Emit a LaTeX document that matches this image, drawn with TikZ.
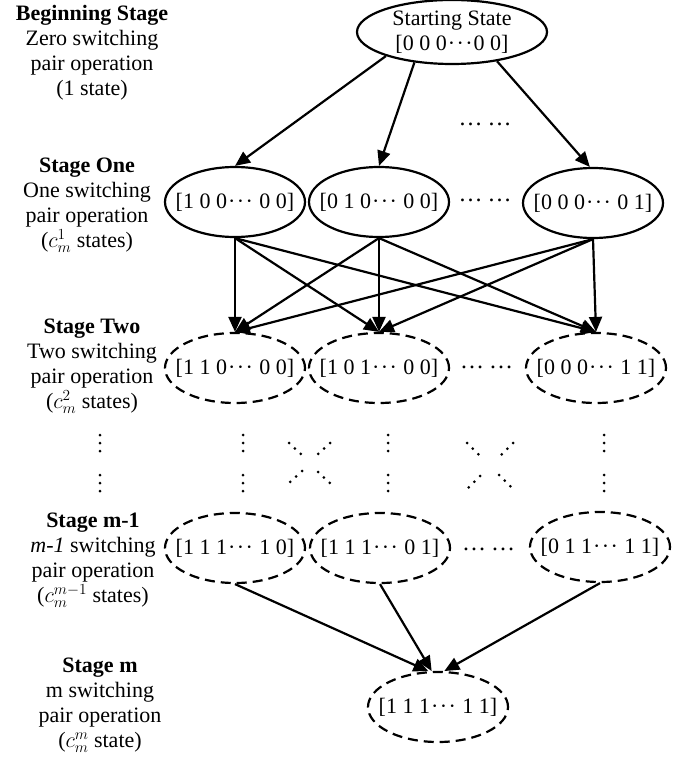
\RequirePackage{fix-cm}
\documentclass[tikz,border=0pt]{standalone}
\usepackage{fontspec}
\setmainfont{Liberation Serif}
\usetikzlibrary{arrows.meta,%
                shapes,positioning}
\newcommand{\mdots}{\kern1pt·\kern1.5pt·\kern1.5pt·\kern1pt}

\begin{document}
\begin{tikzpicture}[x=1pt,y=-1pt,
  state/.style={ellipse,draw,line width=2.2pt,inner sep=0pt,minimum width=140pt,minimum height=70pt,font=\fontsize{22}{25}\selectfont},
  stated/.style={state,dash pattern=on 10pt off 6pt},
  stage/.style={align=center,inner sep=0pt,font=\fontsize{22}{25}\selectfont},
  edge/.style={line width=2.2pt,-{Triangle[length=15pt,width=13pt]}},
  hdots/.style={anchor=base,inner sep=0pt,font=\fontsize{24}{24}\selectfont},
  vdot/.style={line width=3pt,line cap=round,dash pattern=on 0pt off 8pt}]
\useasboundingbox (0,0) rectangle (693,759);
\node[state,minimum width=190pt,minimum height=64pt,align=center] (S0) at (452,32) {Starting State\\{}[0 0 0\mdots{}0 0]};
\node[state] (A1) at (235,202) {\makebox[70pt]{[1 0 0\mdots{} 0 0]}};
\node[state] (A2) at (379,202) {\makebox[70pt]{[0 1 0\mdots{} 0 0]}};
\node[state] (A3) at (593,203) {\makebox[70pt]{[0 0 0\mdots{} 0 1]}};
\node[stated] (B1) at (235,368) {\makebox[70pt]{[1 1 0\mdots{} 0 0]}};
\node[stated] (B2) at (379,368) {\makebox[70pt]{[1 0 1\mdots{} 0 0]}};
\node[stated] (B3) at (596,368) {\makebox[70pt]{[0 0 0\mdots{} 1 1]}};
\node[stated] (C1) at (235,548) {\makebox[70pt]{[1 1 1\mdots{} 1 0]}};
\node[stated] (C2) at (380,548) {\makebox[70pt]{[1 1 1\mdots{} 0 1]}};
\node[stated] (C3) at (600,547) {\makebox[70pt]{[0 1 1\mdots{} 1 1]}};
\node[stated] (D) at (438,707) {\makebox[70pt]{[1 1 1\mdots{} 1 1]}};
\node[stage] (L0) at (92,53) {\textbf{Beginning Stage}\\Zero switching\\pair operation\\(1 state)};
\node[stage] (L1) at (87,205) {\textbf{Stage One}\\One switching\\pair operation\\($c_m^1$ states)};
\node[stage] (L2) at (92,366) {\textbf{Stage Two}\\Two switching\\pair operation\\($c_m^2$ states)};
\node[stage] (L3) at (93,560) {\textbf{Stage m-1}\\\textit{m-1} switching\\pair operation\\($c_m^{m-1}$ states)};
\node[stage] (L4) at (100,705) {\textbf{Stage m}\\m switching\\pair operation\\($c_m^m$ state)};
\node[hdots] (H0) at (485,125.5) {…\hspace{5pt}…};
\node[hdots] (H1) at (485,201.5) {…\hspace{5pt}…};
\node[hdots] (H2) at (486.5,368.5) {…\hspace{5pt}…};
\node[hdots] (H3) at (488.5,550.5) {…\hspace{5pt}…};
\draw[edge] (S0.200) -- (A1.north);
\draw[edge] (S0.219) -- (A2.north);
\draw[edge] (S0.327) -- (A3.95);
\draw[edge] (A1.south) -- (B1.north);
\draw[edge] (A1.south) -- (B2.north);
\draw[edge] (A1.south) -- (B3.north);
\draw[edge] (A2.south) -- (B1.north);
\draw[edge] (A2.south) -- (B2.north);
\draw[edge] (A2.south) -- (B3.north);
\draw[edge] (A3.south) -- (B1.north);
\draw[edge] (A3.south) -- (B2.north);
\draw[edge] (A3.south) -- (B3.north);
\draw[edge] (C1.south) -- (D.105);
\draw[edge] (C2.south) -- (D.100);
\draw[edge] (C3.south) -- (D.80);
\draw[vdot] (100,435) -- (100,451.5);
\draw[vdot] (100,475) -- (100,491.5);
\draw[vdot] (243,435) -- (243,451.5);
\draw[vdot] (243,475) -- (243,491.5);
\draw[vdot] (388,435) -- (388,451.5);
\draw[vdot] (388,475) -- (388,491.5);
\draw[vdot] (604,435) -- (604,451.5);
\draw[vdot] (604,475) -- (604,491.5);
\draw[vdot] (289,443) -- (301,454);
\draw[vdot] (330,443) -- (318,454);
\draw[vdot] (302,471) -- (290,482);
\draw[vdot] (318,472) -- (330,483);
\draw[vdot] (467,443) -- (479,455);
\draw[vdot] (513,443) -- (501,455);
\draw[vdot] (480,476) -- (468,488);
\draw[vdot] (499,475) -- (511,487);
\end{tikzpicture}
\end{document}
